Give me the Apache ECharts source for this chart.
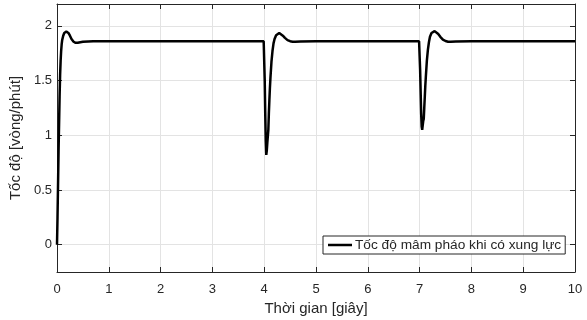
<!DOCTYPE html>
<html>
<head>
<meta charset="utf-8">
<script src="https://cdn.jsdelivr.net/npm/echarts@6/dist/echarts.min.js"></script>
<style>html,body{margin:0;padding:0;background:#fff}#c{width:587px;height:320px}</style>
</head>
<body>
<div id="c"></div>
<script>
const seriesName = 'Tốc độ mâm pháo khi có xung lực';
const xTitle = 'Thời gian [giây]';
const yTitle = 'Tốc độ [vòng/phút]';
const yTickValues = [0, 0.5, 1, 1.5, 2];

const timeSec = [
  0, 0.01, 0.02, 0.03, 0.04, 0.05, 0.06, 0.07, 0.08, 0.09, 0.10, 0.12, 0.14, 0.16, 0.18, 0.20, 0.22, 0.25, 0.28, 0.32, 0.36, 0.40, 0.45, 0.50, 0.60, 0.70, 0.80, 1.0, 2.0, 3.0, 3.99,
  4.00, 4.01, 4.02, 4.03, 4.04, 4.05, 4.06, 4.07, 4.08, 4.09, 4.10, 4.11, 4.12, 4.14, 4.16, 4.18, 4.20, 4.23, 4.26, 4.29, 4.32, 4.36, 4.40, 4.45, 4.50, 4.55, 4.60, 4.70, 5.0, 6.0, 6.99,
  7.00, 7.01, 7.02, 7.03, 7.04, 7.05, 7.06, 7.07, 7.08, 7.09, 7.10, 7.11, 7.12, 7.14, 7.16, 7.18, 7.20, 7.23, 7.26, 7.29, 7.32, 7.36, 7.40, 7.45, 7.50, 7.55, 7.60, 7.70, 8.0, 9.0, 10.0
];
const speed = [
  0, 0.25, 0.55, 0.85, 1.10, 1.35, 1.55, 1.68, 1.77, 1.83, 1.87, 1.91, 1.935, 1.945, 1.948, 1.945, 1.935, 1.91, 1.88, 1.855, 1.845, 1.845, 1.85, 1.855, 1.858, 1.86, 1.86, 1.86, 1.86, 1.86, 1.86,
  1.86, 1.50, 1.20, 0.95, 0.82, 0.86, 0.93, 0.94, 1.05, 1.20, 1.32, 1.43, 1.52, 1.67, 1.77, 1.84, 1.88, 1.915, 1.93, 1.935, 1.93, 1.91, 1.89, 1.87, 1.86, 1.855, 1.855, 1.858, 1.86, 1.86, 1.86,
  1.86, 1.60, 1.40, 1.20, 1.08, 1.05, 1.09, 1.13, 1.15, 1.25, 1.35, 1.45, 1.53, 1.68, 1.78, 1.85, 1.90, 1.935, 1.95, 1.952, 1.945, 1.925, 1.90, 1.875, 1.862, 1.855, 1.855, 1.858, 1.86, 1.86, 1.86
];

const txt = '#262626';
const font = 'Liberation Sans, Arial, sans-serif';
const chart = echarts.init(document.getElementById('c'), null, {renderer: 'canvas'});
const data = timeSec.map((t, i) => [t, speed[i]]);

chart.setOption({
  animation: false,
  backgroundColor: '#fff',
  grid: {left: 57, right: 12, top: 4, bottom: 48, containLabel: false, outerBoundsMode: 'none'},
  legend: {
    left: 323, top: 236,
    data: [seriesName],
    icon: 'rect', itemWidth: 24, itemHeight: 2.5, itemGap: 4,
    backgroundColor: '#fff', borderColor: txt, borderWidth: 1, borderRadius: 0,
    padding: [2, 4, 2, 5],
    textStyle: {color: txt, fontSize: 13.7, fontFamily: font, padding: [0, 0, 0, -2]}
  },
  xAxis: [{
    type: 'value', min: 0, max: 10, interval: 1,
    name: xTitle, nameLocation: 'middle', nameGap: 28,
    nameTextStyle: {color: txt, fontSize: 15, fontFamily: font},
    axisLine: {onZero: false, lineStyle: {color: txt, width: 1}},
    axisTick: {inside: true, length: 5, lineStyle: {color: txt}},
    axisLabel: {color: txt, fontSize: 13, fontFamily: font, margin: 11},
    splitLine: {show: true, lineStyle: {color: '#e3e3e3', width: 1}}
  }, {
    type: 'value', min: 0, max: 10, interval: 1, position: 'top',
    axisLine: {onZero: false, lineStyle: {color: txt, width: 1}},
    axisTick: {inside: true, length: 5, lineStyle: {color: txt}},
    axisLabel: {show: false}, splitLine: {show: false}
  }],
  yAxis: [{
    type: 'value', min: -0.25, max: 2.2,
    name: yTitle, nameLocation: 'middle', nameGap: 17,
    nameTextStyle: {color: txt, fontSize: 15, fontFamily: font},
    axisLine: {show: true, onZero: false, lineStyle: {color: txt, width: 1}},
    axisTick: {show: true, inside: true, length: 5, lineStyle: {color: txt}, customValues: yTickValues},
    axisLabel: {color: txt, fontSize: 13, fontFamily: font, margin: 5, customValues: yTickValues},
    splitLine: {show: true, lineStyle: {color: '#e3e3e3', width: 1}}
  }, {
    type: 'value', min: -0.25, max: 2.2, position: 'right',
    axisLine: {show: true, onZero: false, lineStyle: {color: txt, width: 1}},
    axisTick: {show: true, inside: true, length: 5, lineStyle: {color: txt}, customValues: yTickValues},
    axisLabel: {show: false, customValues: yTickValues}, splitLine: {show: false}
  }],
  series: [{
    name: seriesName, type: 'line', data: data,
    showSymbol: false, symbol: 'none',
    lineStyle: {color: '#000', width: 2.5},
    itemStyle: {color: '#000'},
    z: 5
  }]
});
</script>
</body>
</html>
